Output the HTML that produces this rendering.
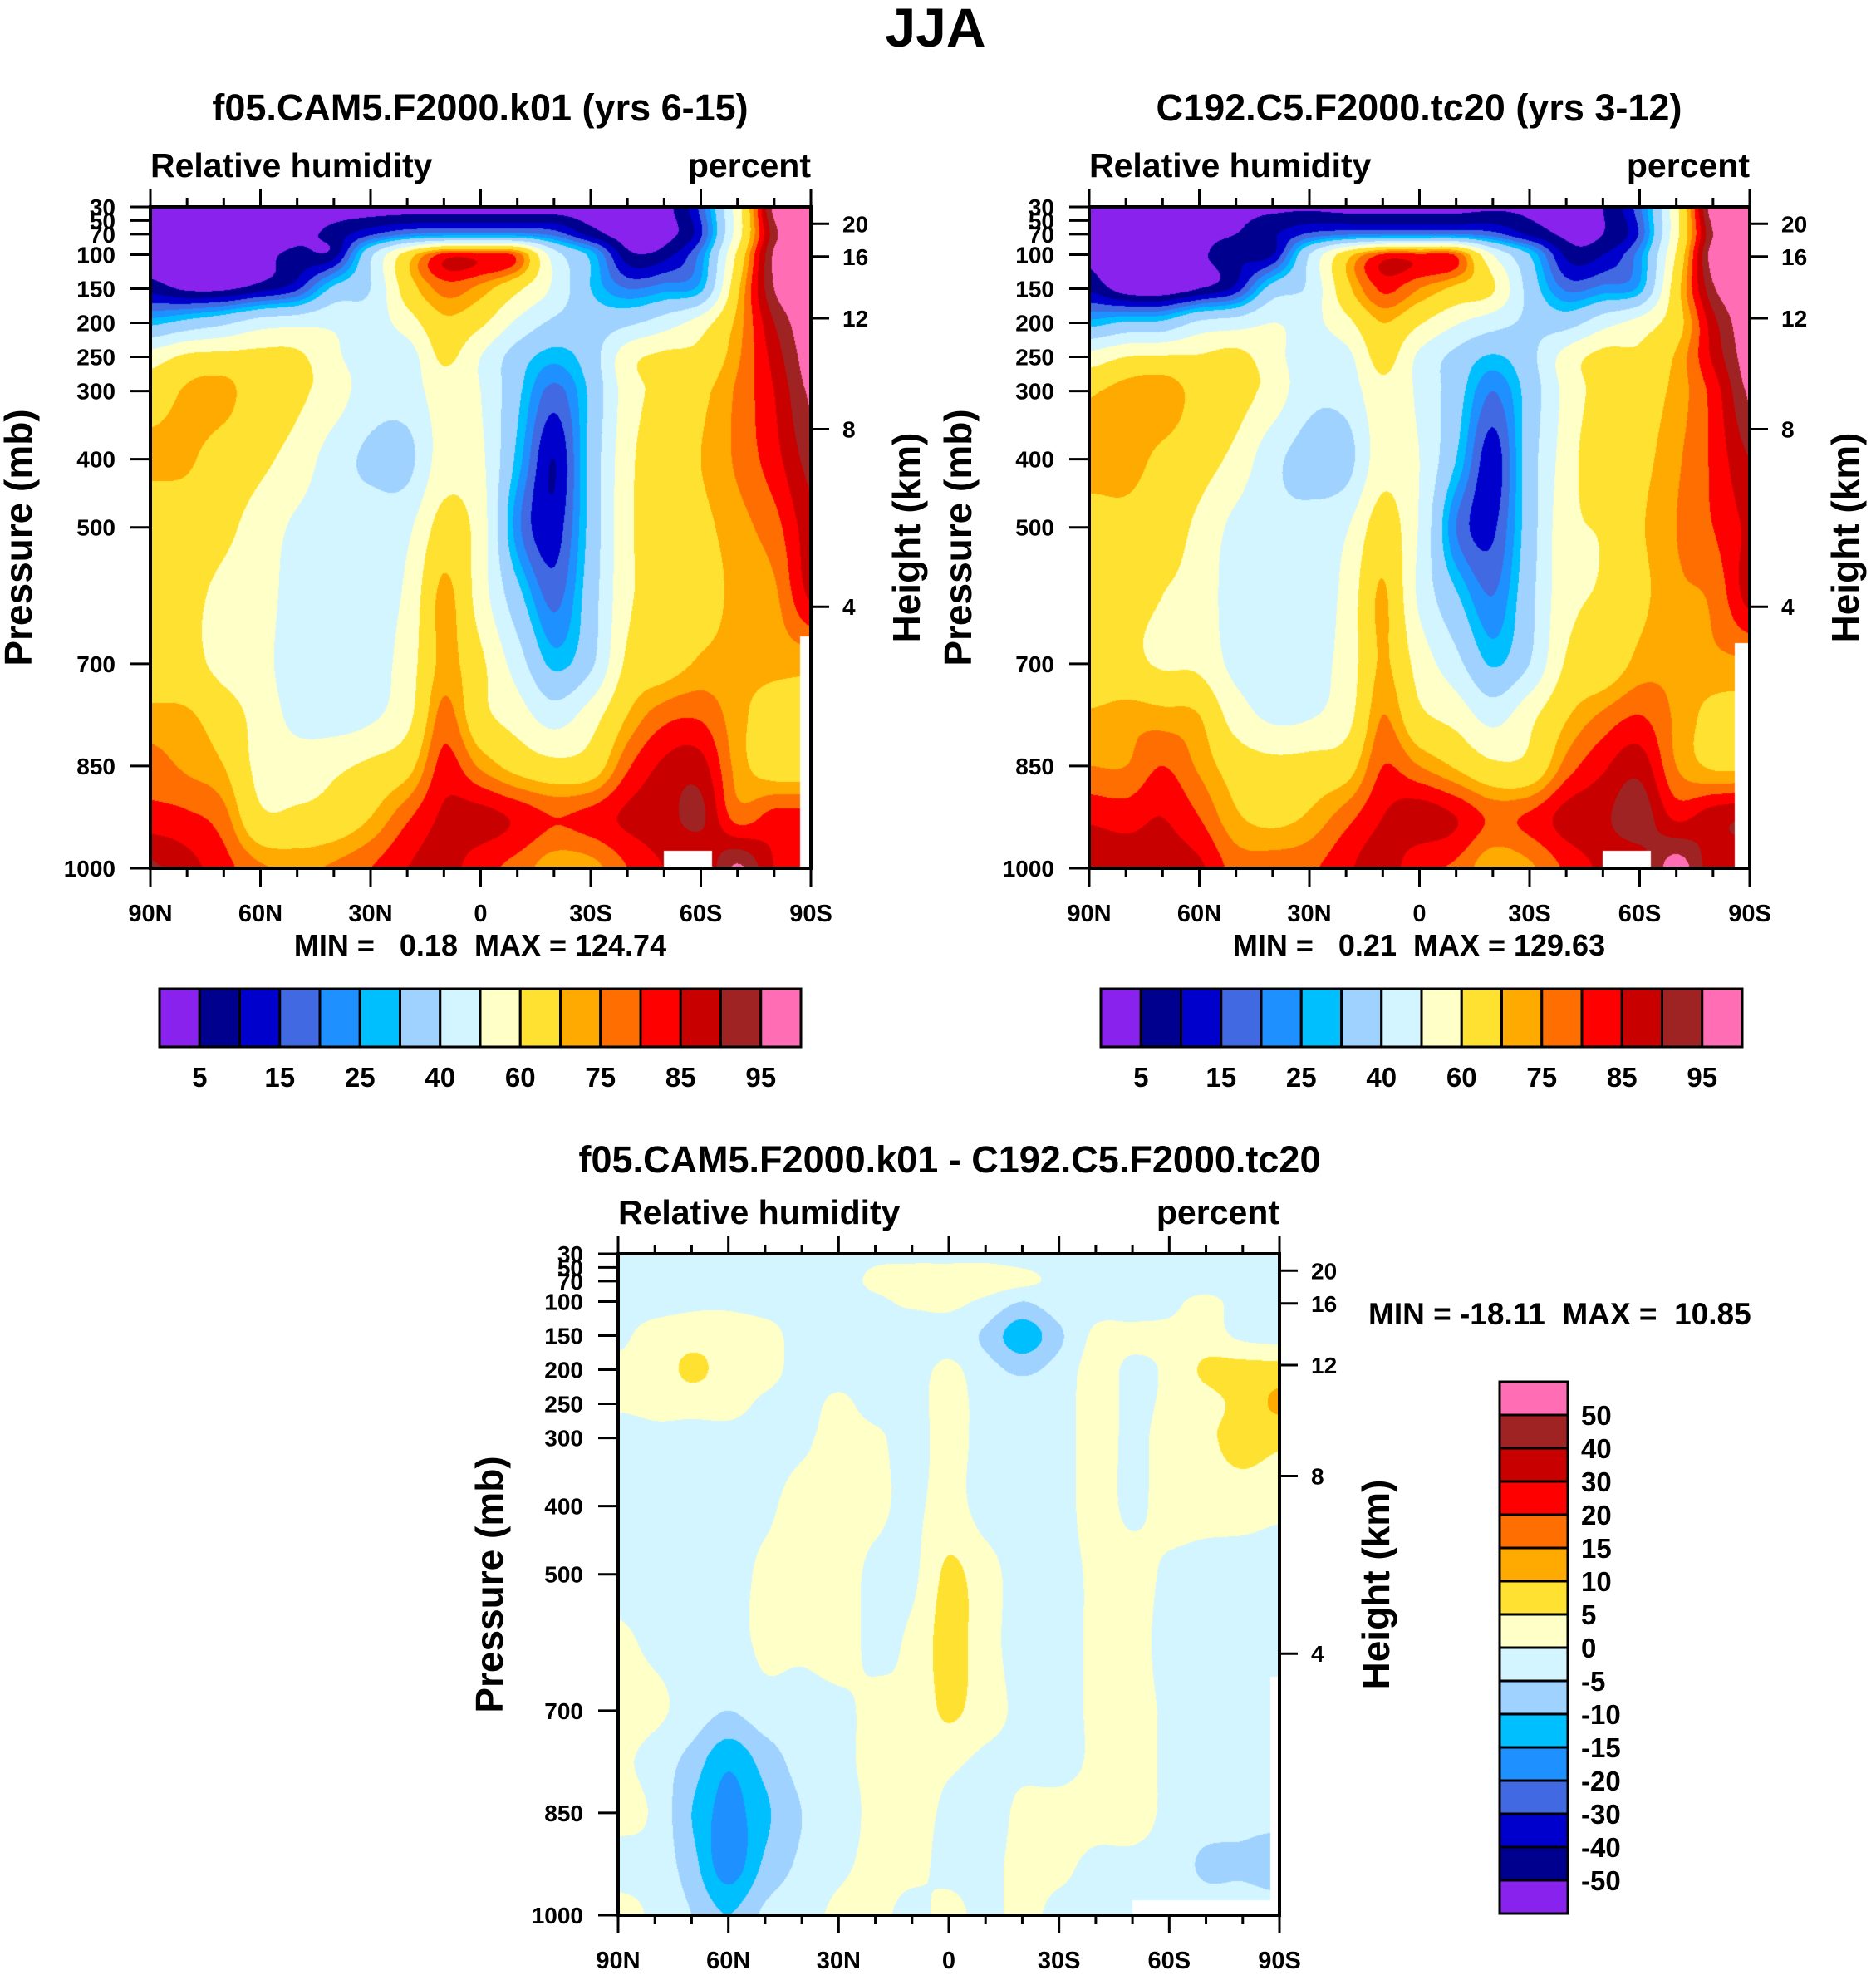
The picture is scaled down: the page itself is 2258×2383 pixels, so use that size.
<!DOCTYPE html>
<html><head><meta charset="utf-8">
<style>
html,body{margin:0;padding:0;background:#fff;}
#root{position:relative;width:2258px;height:2383px;overflow:hidden;background:#fff;font-family:"Liberation Sans",Arial,sans-serif;}
canvas{position:absolute;}
svg{position:absolute;left:0;top:0;}
</style></head>
<body>
<div id="root">
<canvas id="c1" style="left:181px;top:249px" width="795" height="796"></canvas>
<canvas id="c2" style="left:1311px;top:249px" width="795" height="796"></canvas>
<canvas id="c3" style="left:744px;top:1509px" width="796" height="796"></canvas>
<svg id="ov" width="2258" height="2383" font-family="Liberation Sans, Arial, sans-serif" font-weight="bold"></svg>
</div>
<script>
// ---------- data ----------
const lats = [90,80,70,60,50,40,30,20,10,0,-10,-20,-30,-40,-50,-60,-70,-80,-90];
const plev = [30,70,100,150,200,250,300,400,500,600,700,775,850,925,1000];
const pTicks = [30,50,70,100,150,200,250,300,400,500,700,850,1000];
const zTicks = [20,16,12,8,4];
const latTicks = ["90N","60N","30N","0","30S","60S","90S"];
const absLevels = [5,10,15,20,25,30,40,50,60,70,75,80,85,90,95];
const absLabels = ["5","15","25","40","60","75","85","95"];
const diffLevels = [-50,-40,-30,-20,-15,-10,-5,0,5,10,15,20,30,40,50];
const colors = ["#8a22ee","#00008f","#0000cd","#4169e1","#1e90ff","#00bfff","#a0d2ff","#d2f5ff","#ffffc8","#ffe132","#ffaa00","#ff6e00","#ff0000","#c80000","#a02323","#ff6eb4"];

const rh1 = [
[2,2,2,2,2,2,2,2,2,2,2,2,2,2,3,17,55,97,99],
[2,2,2,2,3,7,14,20,22,22,22,18,8,2,3,14,55,93,99],
[2,2,2,3,7,8,38,65,82,82,78,45,28,7,8,22,62,96,99],
[8,4,4,8,14,32,40,65,77,73,62,48,30,20,23,28,68,95,99],
[28,33,38,45,47,48,45,55,68,62,48,38,35,38,45,55,72,90,99],
[55,62,63,63,62,52,45,45,62,50,35,27,35,56,62,63,74,87,98],
[65,71,72,65,62,55,45,45,55,50,32,18,32,55,63,68,76,85,96],
[72,71,66,62,56,45,38,37,55,52,28,10,33,57,66,70,76,83,92],
[63,65,62,56,48,45,45,48,64,55,22,12,33,58,63,68,73,78,88],
[63,62,58,55,45,45,45,52,72,55,33,18,35,58,63,66,72,74,86],
[63,63,57,53,45,45,45,55,72,62,45,28,38,62,66,71,72,72,72],
[72,71,65,56,47,45,48,57,77,63,55,45,55,70,78,79,72,66,66],
[77,74,70,57,55,58,62,67,82,74,67,63,65,79,86,87,73,66,66],
[82,81,77,62,62,64,70,79,86,87,84,80,82,86,88,91,78,82,82],
[91,87,82,76,74,76,80,85,87,82,78,72,73,80,85,85,96,85,85]];

const rh2 = [
[4,4,4,4,4,4,4,3,3,3,3,4,4,4,5,19,57,99,99],
[4,4,4,4,5,9,16,19,20,20,20,17,9,4,5,16,57,95,99],
[4,4,3,4,9,10,40,66,81,81,79,50,30,9,10,23,61,98,99],
[9,2,1,5,12,34,42,67,81,75,68,61,36,19,22,27,66,94,99],
[27,31,32,42,45,50,47,57,70,61,51,44,38,36,46,54,66,88,99],
[54,60,61,61,63,54,44,47,64,48,37,29,37,54,63,62,71,86,98],
[69,73,74,67,64,56,43,44,57,48,34,20,34,53,64,66,72,82,96],
[74,73,68,64,57,43,36,36,56,50,30,12,35,55,67,68,74,81,90],
[65,67,64,58,47,43,43,49,65,49,20,14,35,57,61,69,75,80,86],
[62,63,60,57,44,44,43,53,71,48,31,20,37,57,61,68,74,76,87],
[61,62,59,58,47,47,46,54,71,56,43,29,40,61,64,72,74,74,74],
[71,73,72,70,55,48,49,56,75,62,56,46,57,69,76,80,74,68,68],
[75,75,80,74,66,63,64,66,80,75,69,62,63,77,84,88,75,69,69],
[84,83,85,80,71,68,71,78,85,88,85,79,81,87,89,93,84,88,90],
[89,88,87,86,78,78,79,84,88,81,79,71,74,81,86,87,98,87,87]];

const rhDiff = [
[-2,-2,-2,-2,-2,-2,-2,-1,-1,-1,-1,-2,-2,-2,-2,-2,-2,-2,-2],
[-2,-2,-2,-2,-2,-2,-2,1,2,2,2,1,-1,-2,-2,-2,-2,-2,-3],
[-2,-2,-1,-1,-2,-2,-2,-1,1,1,-1,-5,-2,-2,-2,-1,1,-2,-5],
[-1,2,3,3,2,-2,-2,-2,-4,-2,-6,-13,-6,1,1,1,2,-1,-2],
[1,2,6,3,2,-2,-2,-2,-2,1,-3,-6,-3,2,-1,1,6,7,7],
[1,2,2,2,-1,-2,1,-2,-2,2,-2,-2,-2,2,-1,1,3,7,11],
[-4,-2,-2,-2,-2,-1,2,1,-2,2,-2,-2,-2,2,-1,2,4,7,6],
[-2,-2,-2,-2,-1,2,2,1,-1,2,-2,-2,-2,2,-1,2,2,2,1],
[-2,-2,-2,-2,1,2,2,-1,-1,6,2,-2,-2,1,2,-1,-2,-2,-2],
[1,-1,-2,-2,1,1,2,-1,1,7,2,-2,-2,1,2,-2,-2,-2,-2],
[2,1,-2,-5,-2,-2,-1,1,1,6,2,-1,-2,1,2,-1,-2,-2,-2],
[1,-2,-7,-14,-8,-3,-1,1,2,1,-1,-1,-2,1,2,-1,-2,-2,-2],
[2,-1,-10,-17,-11,-5,-2,1,2,-1,-2,1,2,2,2,-1,-2,-3,-3],
[-2,-2,-8,-18,-9,-4,-1,1,1,-1,-1,1,1,-1,-1,-2,-6,-6,-8],
[2,-1,-5,-10,-4,-2,1,1,-1,1,-1,1,-1,-1,-1,-2,-2,-2,-2]];

// missing-data regions: [latFrom, latTo, pFrom, pTo]
const missing1 = [[-87,-90,660,1000],[-50,-63,975,1000]];
const missing2 = [[-86,-90,670,1000],[-50,-63,975,1000]];
const missing3 = [[-87.5,-90,650,1000],[-50,-90,978,1000]];

// ---------- rendering ----------
function cr(p0,p1,p2,p3,t){
  return p1 + 0.5*t*(p2-p0 + t*(2*p0-5*p1+4*p2-p3 + t*(3*(p1-p2)+p3-p0)));
}
function sample(grid, lat, p){
  const nx = grid[0].length, ny = grid.length;
  const fi = (90-lat)/10;
  const i0 = Math.min(nx-2, Math.floor(fi)); const tx = fi - i0;
  let j0 = 0;
  while (j0 < plev.length-2 && p > plev[j0+1]) j0++;
  const ty = Math.max(0, Math.min(1, (p-plev[j0])/(plev[j0+1]-plev[j0])));
  const g=(j,i)=>grid[Math.max(0,Math.min(ny-1,j))][Math.max(0,Math.min(nx-1,i))];
  const rows=[];
  for (let dj=-1;dj<=2;dj++){
    const j=j0+dj;
    rows.push(cr(g(j,i0-1),g(j,i0),g(j,i0+1),g(j,i0+2),tx));
  }
  return cr(rows[0],rows[1],rows[2],rows[3],ty);
}
function hex(c){return [parseInt(c.substr(1,2),16),parseInt(c.substr(3,2),16),parseInt(c.substr(5,2),16)];}
const rgb = colors.map(hex);
function drawField(id, grid, levels, missing){
  const cv = document.getElementById(id), ctx = cv.getContext('2d');
  const W = cv.width, H = cv.height, img = ctx.createImageData(W,H);
  for (let y=0;y<H;y++){
    const p = 30 + (y+0.5)/H*970;
    for (let x=0;x<W;x++){
      const lat = 90 - (x+0.5)/W*180;
      let miss=false;
      for (const m of missing){ if (lat<=m[0] && lat>=m[1] && p>=m[2] && p<=m[3]) {miss=true;break;} }
      const k=(y*W+x)*4;
      if (miss){img.data[k]=255;img.data[k+1]=255;img.data[k+2]=255;img.data[k+3]=255;continue;}
      const v = sample(grid, lat, p);
      let ci=0; while(ci<levels.length && v>=levels[ci]) ci++;
      const c=rgb[ci];
      img.data[k]=c[0];img.data[k+1]=c[1];img.data[k+2]=c[2];img.data[k+3]=255;
    }
  }
  ctx.putImageData(img,0,0);
}
drawField('c1', rh1, absLevels, missing1);
drawField('c2', rh2, absLevels, missing2);
drawField('c3', rhDiff, diffLevels, missing3);

// ---------- annotation ----------
const NS="http://www.w3.org/2000/svg";
const ov=document.getElementById('ov');
function el(tag, attrs, parent){const e=document.createElementNS(NS,tag);for(const k in attrs)e.setAttribute(k,attrs[k]);(parent||ov).appendChild(e);return e;}
function txt(s, x, y, size, anchor, name, parent){
  const t=el('text',{x:x,y:y,'font-size':size,'text-anchor':anchor||'start',fill:'#000',style:'white-space:pre'},parent);
  t.textContent=s;
  
  
  return t;
}
function zToP(z){
  const m=z*1000;
  if (m<=11000) return 1013.25*Math.pow(1-2.25577e-5*m,5.25588);
  return 226.32*Math.exp(-(m-11000)/6341.6);
}
function panel(L,T,W,H,prefix){
  const g=el('g',{});
  
  
  const py=p=>T+(p-30)/970*H;
  const lx=l=>L+(90-l)/180*W;
  pTicks.forEach(p=>{
    const tk=el('line',{x1:L-24,x2:L,y1:py(p),y2:py(p),stroke:'#000','stroke-width':3},g);
    
    
    txt(String(p), L-42, py(p)+10, 28, 'end', prefix+'-pressure-label', g);
  });
  zTicks.forEach(z=>{
    const y=py(zToP(z));
    const tk=el('line',{x1:L+W,x2:L+W+22,y1:y,y2:y,stroke:'#000','stroke-width':3},g);
    
    
    txt(String(z), L+W+38, y+10, 28, 'start', prefix+'-height-label', g);
  });
  for (let l=90;l>=-90;l-=10){
    const major = (l%30===0);
    const len = major?22:11;
    const x=lx(l);
    const t1=el('line',{x1:x,x2:x,y1:T-len,y2:T,stroke:'#000','stroke-width':3},g);
    
    
    const t2=el('line',{x1:x,x2:x,y1:T+H,y2:T+H+len,stroke:'#000','stroke-width':3},g);
    
    
  }
  latTicks.forEach((s,i)=>{
    txt(s, lx(90-30*i), T+H+64, 29, 'middle', prefix+'-lat-label', g);
  });
  const fr=el('rect',{x:L,y:T,width:W,height:H,fill:'none',stroke:'#000','stroke-width':4},g);
  
  
  txt('Relative humidity', L, T-36, 41, 'start', prefix+'-variable-label', g);
  txt('percent', L+W, T-36, 41, 'end', prefix+'-units-label', g);
}
txt('JJA', 1126, 56, 66, 'middle', 'figure-title');
txt('f05.CAM5.F2000.k01 (yrs 6-15)', 578, 145, 45, 'middle', 'panel1-title');
txt('C192.C5.F2000.tc20 (yrs 3-12)', 1708, 145, 45, 'middle', 'panel2-title');
txt('f05.CAM5.F2000.k01 - C192.C5.F2000.tc20', 1143, 1411, 45, 'middle', 'diff-title');

panel(181,249,795,796,'panel1');
panel(1311,249,795,796,'panel2');
panel(744,1509,796,796,'diff');

function vtitle(s,x,y,name){
  const t=txt(s,0,0,46,'middle',name);
  t.setAttribute('transform','translate('+x+','+y+') rotate(-90)');
}
vtitle('Pressure (mb)', 38, 647, 'panel1-y-axis-title');
vtitle('Height (km)', 1107, 647, 'panel1-right-axis-title');
vtitle('Pressure (mb)', 1169, 647, 'panel2-y-axis-title');
vtitle('Height (km)', 2237, 647, 'panel2-right-axis-title');
vtitle('Pressure (mb)', 605, 1907, 'diff-y-axis-title');
vtitle('Height (km)', 1672, 1907, 'diff-right-axis-title');

txt('MIN =   0.18  MAX = 124.74', 578, 1150, 36, 'middle', 'panel1-minmax');
txt('MIN =   0.21  MAX = 129.63', 1708, 1150, 36, 'middle', 'panel2-minmax');
txt('MIN = -18.11  MAX =  10.85', 1647, 1594, 37, 'start', 'diff-minmax');

function hbar(L,T,W,H,prefix){
  const g=el('g',{});
  
  
  const bw=W/colors.length;
  colors.forEach((c,i)=>{
    const r=el('rect',{x:L+i*bw,y:T,width:bw,height:H,fill:c,stroke:'#000','stroke-width':3},g);
    
    
  });
  absLabels.forEach(s=>{
    const idx=absLevels.indexOf(Number(s));
    txt(s, L+(idx+1)*bw, T+H+48, 33, 'middle', prefix+'-colorbar-label', g);
  });
}
hbar(192,1190,772,70,'panel1');
hbar(1325,1190,772,70,'panel2');

(function(){
  const L=1805,T=1663,W=82,H=640;
  const g=el('g',{});
  
  
  const bh=H/colors.length;
  for (let i=0;i<colors.length;i++){
    const c=colors[colors.length-1-i];
    const r=el('rect',{x:L,y:T+i*bh,width:W,height:bh,fill:c,stroke:'#000','stroke-width':3},g);
    
    
  }
  for (let i=0;i<diffLevels.length;i++){
    const v=diffLevels[diffLevels.length-1-i];
    txt(String(v), 1903, T+(i+1)*bh+12, 33, 'start', 'diff-colorbar-label', g);
  }
})();
</script>
</body></html>
